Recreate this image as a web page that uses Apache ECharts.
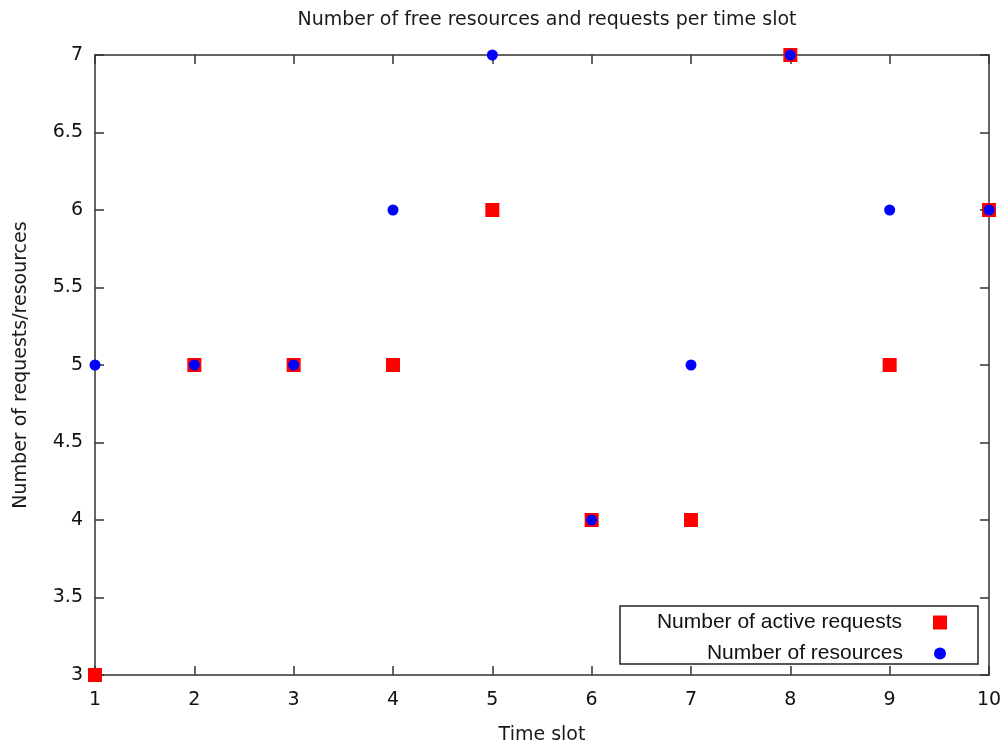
<!DOCTYPE html>
<html>
<head>
<meta charset="utf-8">
<script src="https://cdn.jsdelivr.net/npm/echarts@6/dist/echarts.min.js"></script>
<style>
  html, body { margin: 0; padding: 0; background: #fff; }
  #chart { width: 1008px; height: 744px; }
</style>
</head>
<body>
<div id="chart"></div>
<script>
// Time slots and per-slot counts
const timeSlots = [1, 2, 3, 4, 5, 6, 7, 8, 9, 10];
const activeRequests = [3, 5, 5, 5, 6, 4, 4, 7, 5, 6];
const resources = [5, 5, 5, 6, 7, 4, 5, 7, 6, 6];

const titleText = 'Number of free resources and requests per time slot';
const xName = 'Time slot';
const yName = 'Number of requests/resources';
const requestsName = 'Number of active requests';
const resourcesName = 'Number of resources';

const axisColor = '#333';
const labelFont = 'DejaVu Sans';

const pairs = (xs, ys) => xs.map((x, i) => [x, ys[i]]);

const chart = echarts.init(document.getElementById('chart'));

const baseX = {
  type: 'value', min: 1, max: 10, interval: 1,
  axisLine: { show: true, lineStyle: { color: axisColor, width: 1.5 } },
  axisTick: { show: true, inside: true, length: 9, lineStyle: { color: axisColor, width: 1.5 } },
  splitLine: { show: false }
};
const baseY = {
  type: 'value', min: 3, max: 7, interval: 0.5,
  axisLine: { show: true, lineStyle: { color: axisColor, width: 1.5 } },
  axisTick: { show: true, inside: true, length: 9, lineStyle: { color: axisColor, width: 1.5 } },
  splitLine: { show: false }
};

const legendText = { fontFamily: 'Liberation Sans', fontSize: 21, color: '#111', padding: [0, 26, 0, 0] };

chart.setOption({
  animation: false,
  backgroundColor: '#fff',
  title: {
    text: titleText, left: 542, top: 6, textAlign: 'center',
    textStyle: { fontFamily: labelFont, fontSize: 19, fontWeight: 'normal', color: '#1a1a1a' }
  },
  grid: { left: 95, right: 19, top: 55, bottom: 69, outerBoundsMode: 'none' },
  legend: [
    {
      data: [requestsName], orient: 'vertical', align: 'right',
      right: 61, top: 612, itemWidth: 14, itemHeight: 14, padding: 0,
      textStyle: legendText
    },
    {
      data: [resourcesName], orient: 'vertical', align: 'right',
      right: 62, top: 643, itemWidth: 12, itemHeight: 12, padding: 0,
      textStyle: legendText
    }
  ],
  graphic: [{
    type: 'rect', shape: { x: 620, y: 606, width: 358, height: 58 },
    style: { fill: 'none', stroke: '#222', lineWidth: 1.5 }, z: 10
  }],
  xAxis: [
    Object.assign({}, baseX, {
      position: 'bottom',
      name: xName, nameLocation: 'middle', nameGap: 51,
      nameTextStyle: { fontFamily: labelFont, fontSize: 19, color: '#1a1a1a' },
      axisLabel: { fontFamily: labelFont, fontSize: 19, color: '#111', margin: 16 }
    }),
    Object.assign({}, baseX, { position: 'top', axisLabel: { show: false } })
  ],
  yAxis: [
    Object.assign({}, baseY, {
      position: 'left',
      name: yName, nameLocation: 'middle', nameGap: 64,
      nameTextStyle: { fontFamily: labelFont, fontSize: 19, color: '#1a1a1a' },
      axisLabel: { fontFamily: labelFont, fontSize: 19, color: '#111', margin: 12 }
    }),
    Object.assign({}, baseY, { position: 'right', axisLabel: { show: false } })
  ],
  series: [
    {
      name: requestsName, type: 'scatter', symbol: 'rect', symbolSize: 14,
      clip: false, itemStyle: { color: '#ff0000', opacity: 1 },
      data: pairs(timeSlots, activeRequests), z: 3
    },
    {
      name: resourcesName, type: 'scatter', symbol: 'circle', symbolSize: 11,
      clip: false, itemStyle: { color: '#0000ff', opacity: 1 },
      data: pairs(timeSlots, resources), z: 4
    }
  ]
});
</script>
</body>
</html>
